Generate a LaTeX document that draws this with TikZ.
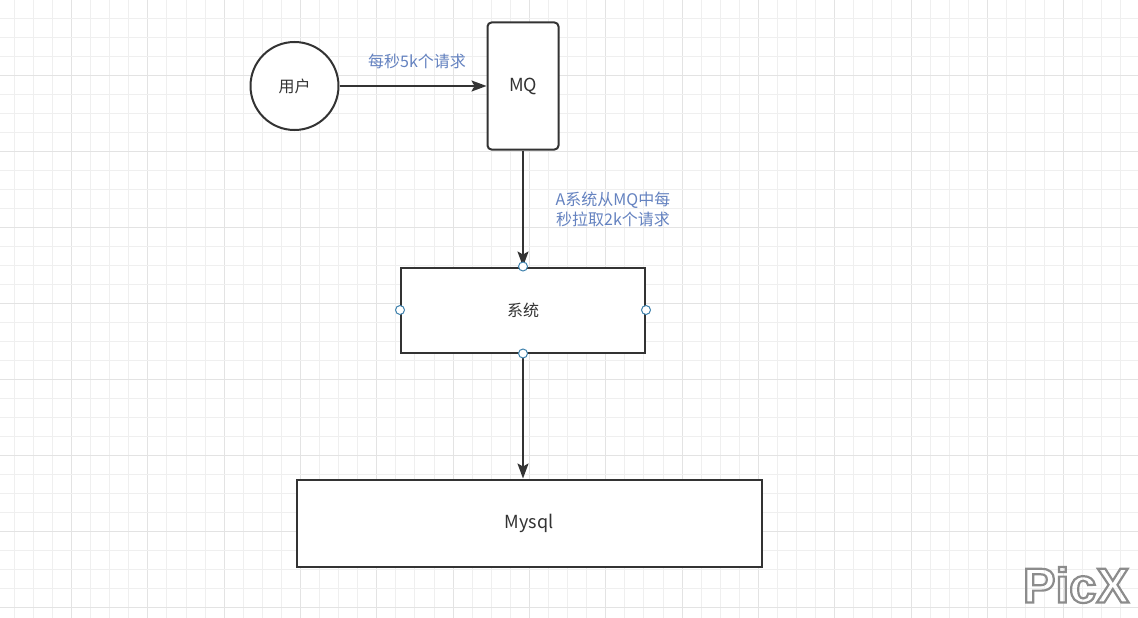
\documentclass[tikz,border=0pt]{standalone}
\usepackage{fontspec}
\setmainfont{Noto Sans CJK SC}
\newfontfamily\picxfont{Liberation Sans}
\usetikzlibrary{arrows.meta}
\definecolor{ink}{HTML}{333333}
\definecolor{lab}{HTML}{6482C0}
\definecolor{hdl}{HTML}{3F82AD}
\definecolor{gminor}{HTML}{EFEFEF}
\definecolor{gmajor}{HTML}{E3E3E3}
\tikzset{
  shapebox/.style={draw=ink, line width=2pt, fill=white, text=ink, font=\fontsize{16}{20}\selectfont, inner sep=0pt},
  bigtext/.style={font=\fontsize{18}{20}\selectfont},
  conn/.style={draw=ink, line width=2pt, -{Stealth[length=15pt,width=11pt,inset=3pt]}},
  lbl/.style={text=lab, font=\fontsize{16}{20}\selectfont, align=center, inner sep=0pt},
  handle/.style={circle, draw=hdl, fill=white, line width=1pt, minimum size=9pt, inner sep=0pt},
  picx/.style={font=\picxfont\bfseries\fontsize{49}{49}\selectfont, inner sep=0pt}
}
\begin{document}
\begin{tikzpicture}[x=1pt,y=-1pt]
\useasboundingbox (0,0) rectangle (1138,618);
\fill[white] (0,0) rectangle (1138,618);
% grid
\foreach \k in {0,...,59}{
  \pgfmathtruncatemacro{\m}{mod(\k,4)}
  \ifnum\m=3
    \draw[gmajor, line width=1pt] ({14.3+19.08*\k},0) -- ({14.3+19.08*\k},618);
  \else
    \draw[gminor, line width=1pt] ({14.3+19.08*\k},0) -- ({14.3+19.08*\k},618);
  \fi
}
\foreach \k in {1,...,32}{
  \pgfmathtruncatemacro{\m}{mod(\k,4)}
  \ifnum\m=0
    \draw[gmajor, line width=1pt] (0,{19*\k-0.5}) -- (1138,{19*\k-0.5});
  \else
    \draw[gminor, line width=1pt] (0,{19*\k-0.5}) -- (1138,{19*\k-0.5});
  \fi
}
% nodes
\node[shapebox, circle, minimum size=88pt] (user) at (294.5,86) {用户};
\node[shapebox, bigtext, rounded corners=4pt, minimum width=71pt, minimum height=127pt] (mq) at (523,86) {MQ};
\node[shapebox, minimum width=244pt, minimum height=85pt] (sys) at (523,310) {系统};
\node[shapebox, bigtext, minimum width=465pt, minimum height=87pt] (db) at (529,523) {Mysql};
% connectors
\draw[conn] (user.east) -- (user.east -| mq.west);
\draw[conn] (mq.south) -- (mq.south |- sys.north);
\draw[conn] (sys.south) -- (sys.south |- db.north);
% labels
\node[lbl] (l1) at (417,61) {每秒5k个请求};
\node[lbl] (l2) at (613,209) {A系统从MQ中每\\秒拉取2k个请求};
% handles
\node[handle] (h1) at (sys.north) {};
\node[handle] (h2) at (sys.south) {};
\node[handle] (h3) at (sys.west) {};
\node[handle] (h4) at (sys.east) {};
% watermark (outlined text)
\node[picx] (wm) at (1076,585) {\special{pdf:literal direct 1 Tr 2.2 w 0.55 G}PicX\special{pdf:literal direct 0 Tr 1 w 0 G}};
\end{tikzpicture}
\end{document}
